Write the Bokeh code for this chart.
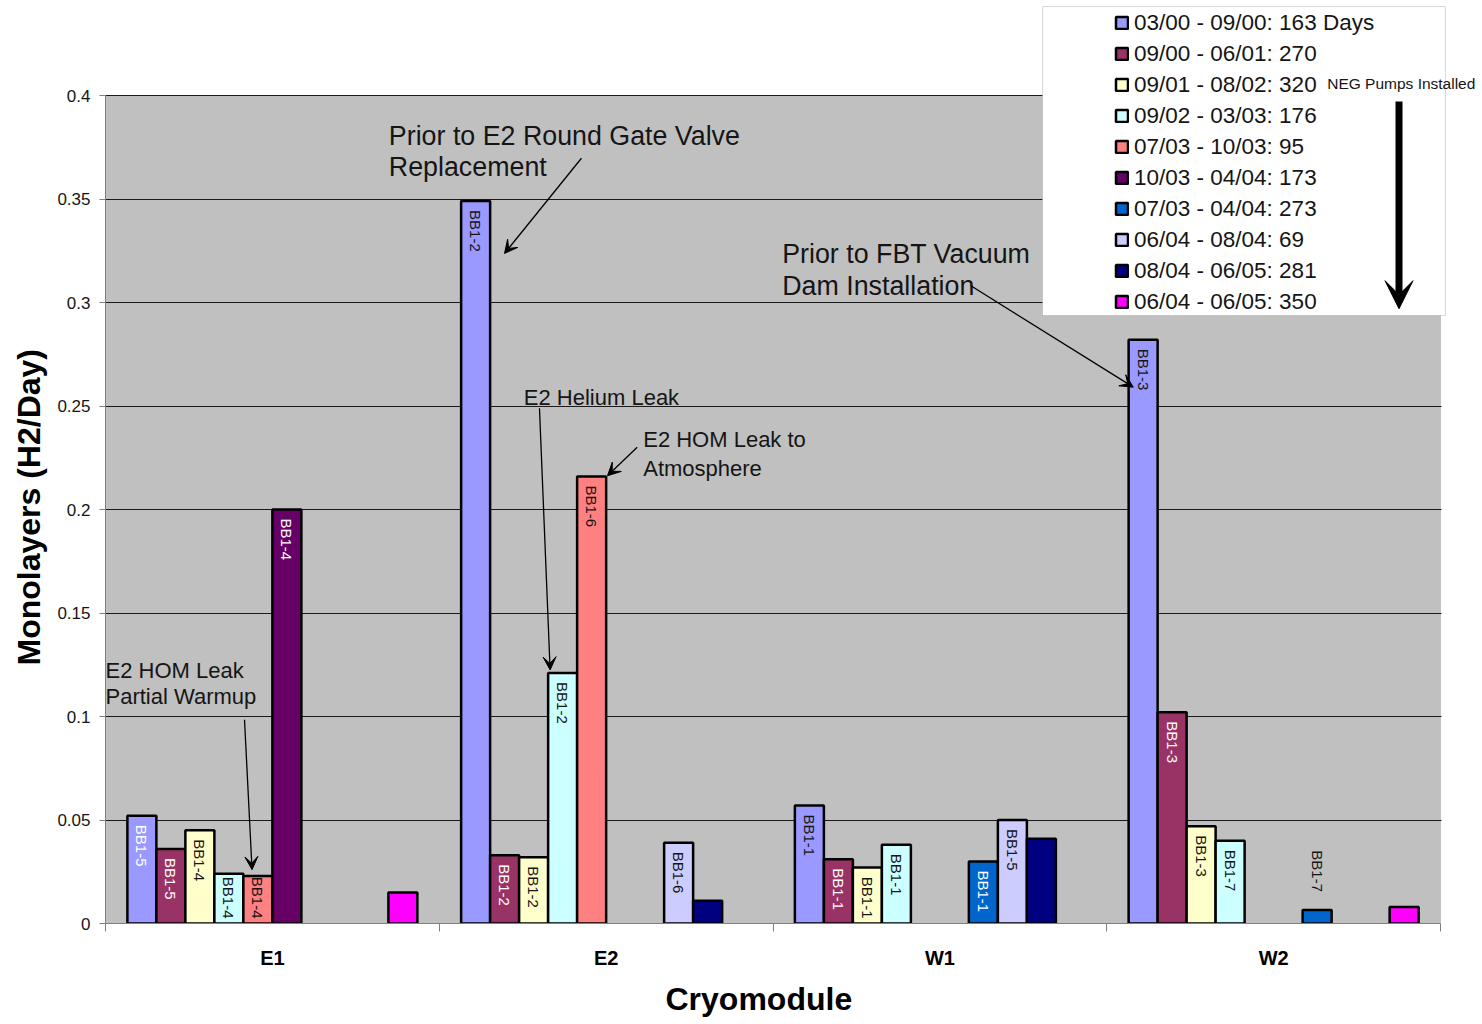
import math

from bokeh.core.properties import value
from bokeh.embed import file_html
from bokeh.models import (Arrow, BoxAnnotation, ColumnDataSource, FixedTicker,
                          Label, Legend, LegendItem, Range1d, Title, VeeHead)
from bokeh.plotting import figure
from bokeh.resources import INLINE

# ---------------------------------------------------------------- data
cryomodules = ["E1", "E2", "W1", "W2"]

periods = [
    "03/00 - 09/00: 163 Days",
    "09/00 - 06/01: 270",
    "09/01 - 08/02: 320",
    "09/02 - 03/03: 176",
    "07/03 - 10/03: 95",
    "10/03 - 04/04: 173",
    "07/03 - 04/04: 273",
    "06/04 - 08/04: 69",
    "08/04 - 06/05: 281",
    "06/04 - 06/05: 350",
]

# H2 monolayers per day for each period, ordered E1, E2, W1, W2 (None = not measured)
mar00_sep00 = [0.052, 0.349, 0.057, 0.282]
sep00_jun01 = [0.036, 0.033, 0.031, 0.102]
sep01_aug02 = [0.045, 0.032, 0.027, 0.047]
sep02_mar03 = [0.024, 0.121, 0.038, 0.040]
jul03_oct03 = [0.023, 0.216, None, None]
oct03_apr04 = [0.200, None, None, None]
jul03_apr04 = [None, None, 0.030, 0.0065]
jun04_aug04 = [None, 0.039, 0.050, None]
aug04_jun05 = [None, 0.011, 0.041, None]
jun04_jun05 = [0.015, None, None, 0.008]

# beam-line section printed on each bar
sect_mar00_sep00 = ["BB1-5", "BB1-2", "BB1-1", "BB1-3"]
sect_sep00_jun01 = ["BB1-5", "BB1-2", "BB1-1", "BB1-3"]
sect_sep01_aug02 = ["BB1-4", "BB1-2", "BB1-1", "BB1-3"]
sect_sep02_mar03 = ["BB1-4", "BB1-2", "BB1-1", "BB1-7"]
sect_jul03_oct03 = ["BB1-4", "BB1-6", None, None]
sect_oct03_apr04 = ["BB1-4", None, None, None]
sect_jul03_apr04 = [None, None, "BB1-1", "BB1-7"]
sect_jun04_aug04 = [None, "BB1-6", "BB1-5", None]
sect_aug04_jun05 = [None, None, None, None]
sect_jun04_jun05 = [None, None, None, None]

y_ticks = [0, 0.05, 0.1, 0.15, 0.2, 0.25, 0.3, 0.35, 0.4]
y_tick_labels = ["0", "0.05", "0.1", "0.15", "0.2", "0.25", "0.3", "0.35", "0.4"]

series = [mar00_sep00, sep00_jun01, sep01_aug02, sep02_mar03, jul03_oct03,
          oct03_apr04, jul03_apr04, jun04_aug04, aug04_jun05, jun04_jun05]
sections = [sect_mar00_sep00, sect_sep00_jun01, sect_sep01_aug02, sect_sep02_mar03,
            sect_jul03_oct03, sect_oct03_apr04, sect_jul03_apr04, sect_jun04_aug04,
            sect_aug04_jun05, sect_jun04_jun05]

# ---------------------------------------------------------------- style
fills = ["#9999FF", "#993366", "#FFFFCC", "#CCFFFF", "#FF8080",
         "#660066", "#0066CC", "#CCCCFF", "#000080", "#FF00FF"]
dark_fills = {1, 5, 6, 8}
FONT = "Liberation Sans"
INK = "#151515"

W, H = 1482, 1024
LEFT, BOTTOM = 105, 101
PX_PER_GROUP = 333.75      # horizontal pixels per cryomodule
PX_PER_UNIT = 2070.0       # vertical pixels per monolayer/day
frame_w, frame_h = W - LEFT, H - BOTTOM

n_groups = len(cryomodules)
SLOT = 29.0 / PX_PER_GROUP
PAD = (1.0 - len(series) * SLOT) / 2.0


def slot_x(group, k):
    return group + PAD + (k + 0.5) * SLOT


p = figure(width=W, height=H,
           x_range=Range1d(0, frame_w / PX_PER_GROUP),
           y_range=Range1d(0, frame_h / PX_PER_UNIT),
           output_backend="svg", toolbar_location=None,
           min_border_left=LEFT, min_border_bottom=BOTTOM,
           min_border_top=0, min_border_right=0,
           background_fill_color="white", border_fill_color="white",
           outline_line_color=None)

# grey plotting area with its right-hand border
p.add_layout(BoxAnnotation(left=0, right=n_groups, bottom=0, top=y_ticks[-1],
                           fill_color="#C0C0C0", fill_alpha=1.0,
                           line_color="#808080", line_width=1, level="image"))

# ---------------------------------------------------------------- axes
p.yaxis.ticker = FixedTicker(ticks=y_ticks, minor_ticks=[])
p.yaxis.major_label_overrides = dict(zip(y_ticks, y_tick_labels))
p.yaxis.bounds = (0, y_ticks[-1])
p.yaxis.axis_line_color = "#808080"
p.yaxis.major_tick_line_color = "#808080"
p.yaxis.major_tick_out = 6
p.yaxis.major_tick_in = 0
p.yaxis.major_label_standoff = 9
p.yaxis.major_label_text_font = FONT
p.yaxis.major_label_text_font_size = "17px"
p.yaxis.major_label_text_color = INK

centres = [g + 0.5 for g in range(n_groups)]
p.xaxis.ticker = FixedTicker(ticks=centres, minor_ticks=list(range(n_groups + 1)))
p.xaxis.major_label_overrides = dict(zip(centres, cryomodules))
p.xaxis.bounds = (0, n_groups)
p.xaxis.axis_line_color = "#808080"
p.xaxis.major_tick_line_color = None
p.xaxis.major_tick_out = 0
p.xaxis.major_tick_in = 0
p.xaxis.minor_tick_line_color = "#808080"
p.xaxis.minor_tick_out = 8
p.xaxis.minor_tick_in = 0
p.xaxis.major_label_standoff = 15
p.xaxis.major_label_text_font = FONT
p.xaxis.major_label_text_font_style = "bold"
p.xaxis.major_label_text_font_size = "20px"
p.xaxis.major_label_text_color = "#000000"

# axis titles, set as side titles so they can sit centred on the grey area
p.add_layout(Title(text="Cryomodule", align="left", offset=560, standoff=15,
                   text_font=FONT, text_font_style="bold", text_font_size="32px",
                   text_color="#000000"), "below")
p.add_layout(Title(text="Monolayers (H2/Day)", align="left", offset=258, standoff=15,
                   text_font=FONT, text_font_style="bold", text_font_size="32px",
                   text_color="#000000"), "left")

p.xgrid.visible = False
p.ygrid.grid_line_color = "#1a1a1a"
p.ygrid.grid_line_width = 1
p.ygrid.bounds = (0, y_ticks[-1])

# keep the horizontal grid lines inside the plotting area
p.add_layout(BoxAnnotation(left=n_groups + 0.003, bottom=0, fill_color="white",
                           fill_alpha=1.0, line_color=None, level="glyph"))

# ---------------------------------------------------------------- bars
legend_items = []
for k, (vals, colour) in enumerate(zip(series, fills)):
    xs = [slot_x(g, k) for g, v in enumerate(vals) if v is not None]
    tops = [v for v in vals if v is not None]
    src = ColumnDataSource(dict(x=xs, top=tops))
    r = p.vbar(x="x", top="top", bottom=0, width=SLOT, source=src,
               fill_color=colour, line_color="black", line_width=2.5)
    legend_items.append(LegendItem(label=periods[k], renderers=[r]))

# section labels, written downwards inside (or just above) each bar
TEXT_LEN = 44.0
groups = {"top": dict(x=[], y=[], text=[], color=[]),
          "bottom": dict(x=[], y=[], text=[], color=[]),
          "above": dict(x=[], y=[], text=[], color=[])}
for k, (vals, labs) in enumerate(zip(series, sections)):
    for g, (v, lab) in enumerate(zip(vals, labs)):
        if v is None or lab is None:
            continue
        h = v * PX_PER_UNIT
        light = k in dark_fills or (k == 0 and g == 0)
        if h >= TEXT_LEN + 12:
            key, y = "top", v - 9 / PX_PER_UNIT
        elif h >= TEXT_LEN:
            key, y = "bottom", 5 / PX_PER_UNIT
        else:
            key, y = "above", v + 18 / PX_PER_UNIT
        d = groups[key]
        d["x"].append(slot_x(g, k))
        d["y"].append(y)
        d["text"].append(lab)
        d["color"].append("#FFFFFF" if light and key != "above" else INK)

for key, align in (("top", "left"), ("bottom", "right"), ("above", "right")):
    if not groups[key]["x"]:
        continue
    p.text(x="x", y="y", text="text", source=ColumnDataSource(groups[key]),
           angle=-math.pi / 2, text_align=align, text_baseline="middle",
           text_font=value(FONT), text_font_size="15px", text_color="color")

# ---------------------------------------------------------------- annotations
def note(text, x, y, size="22px"):
    p.add_layout(Label(x=x, y=y, text=text, text_font=FONT, text_font_size=size,
                       text_color=INK, text_align="left", text_baseline="alphabetic"))


def pointer(x0, y0, x1, y1):
    p.add_layout(Arrow(x_start=x0, y_start=y0, x_end=x1, y_end=y1,
                       line_color="black", line_width=1.3,
                       end=VeeHead(size=13, fill_color="black", line_color="black")))


note("Prior to E2 Round Gate Valve", 0.849, 0.3806, "26.8px")
note("Replacement", 0.849, 0.3653, "26.8px")
pointer(1.426, 0.3697, 1.1955, 0.3237)

note("E2 Helium Leak", 1.2534, 0.2541)
pointer(1.3003, 0.2489, slot_x(1, 3) - SLOT / 2 + 0.006, sep02_mar03[1] + 0.0015)

note("E2 HOM Leak to", 1.6111, 0.2337)
note("Atmosphere", 1.6111, 0.2198)
pointer(1.5931, 0.2301, slot_x(1, 4) + SLOT / 2 + 0.004, jul03_oct03[1] + 0.0003)

note("Prior to FBT Vacuum", 2.0276, 0.3234, "26.8px")
note("Dam Installation", 2.0276, 0.3081, "26.8px")
pointer(2.5918, 0.3082, slot_x(3, 0) - SLOT / 2 + 0.014, 0.2591)

note("E2 HOM Leak", 0.0, 0.1221)
note("Partial Warmup", 0.0, 0.1097)
pointer(0.4165, 0.0984, slot_x(0, 4) - SLOT / 2 + 0.026, jul03_oct03[0] + 0.003)

# ---------------------------------------------------------------- legend
p.add_layout(BoxAnnotation(left=2.8075, right=4.0150, bottom=0.2937, top=0.4430,
                           fill_color="white", fill_alpha=1.0,
                           line_color="#808080", line_width=1))

legend = Legend(items=legend_items, location=(1009, 606),
                orientation="vertical", glyph_width=15, glyph_height=15,
                label_standoff=5, label_height=31, spacing=0, padding=0, margin=0,
                label_text_font=FONT, label_text_font_size="22.5px",
                label_text_color=INK, background_fill_alpha=0.0,
                border_line_color=None)
p.add_layout(legend)

note("NEG Pumps Installed", 3.6605, 0.4058, "15.5px")
p.add_layout(Arrow(x_start=3.8757, y_start=0.3971, x_end=3.8757, y_end=0.2970,
                   line_color="black", line_width=7,
                   end=VeeHead(size=28, fill_color="black", line_color="black")))

open("out.html", "w").write(file_html(p, INLINE))
